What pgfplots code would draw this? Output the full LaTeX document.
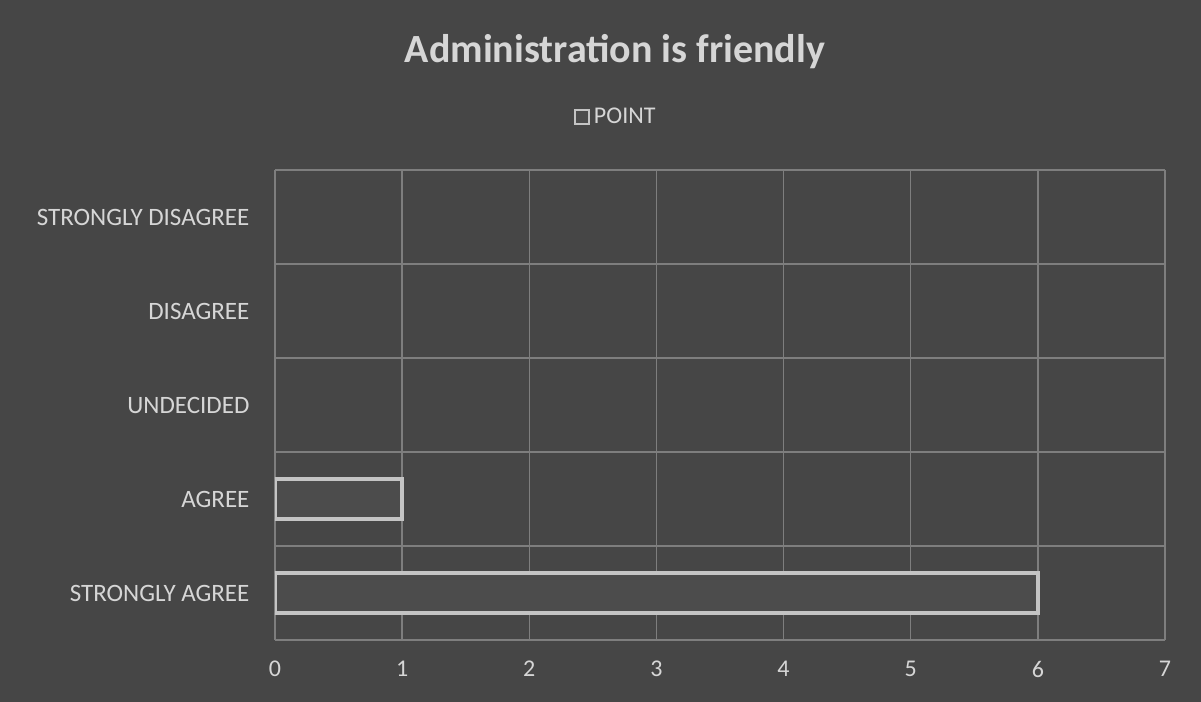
\documentclass[border=0pt]{standalone}
\usepackage{pgfplots}
\pgfplotsset{compat=1.18}
\usepackage{fontspec}
\setmainfont{Carlito}
\definecolor{bg}{HTML}{464646}
\definecolor{txt}{HTML}{D6D6D6}
\definecolor{grd}{HTML}{7E7E7E}
\definecolor{edge}{HTML}{C4C4C4}
\definecolor{barfill}{HTML}{4C4C4C}
\begin{document}
\begin{tikzpicture}
\fill[bg] (0pt,0pt) rectangle (600.5pt,351pt);
\node[font=\bfseries\fontsize{20}{24}\selectfont, text=txt] at (307.5pt,325pt) {Administration is friendly};
\begin{axis}[
  at={(137.5pt,31pt)}, anchor=south west,
  scale only axis, width=445pt, height=235pt,
  xbar, bar width=0.42,
  xmin=0, xmax=7, ymin=-0.5, ymax=4.5,
  xtick={0,...,7},
  ytick={0,1,2,3,4},
  yticklabels={STRONGLY AGREE,AGREE,UNDECIDED,DISAGREE,STRONGLY DISAGREE},
  minor ytick={-0.5,0.5,1.5,2.5,3.5,4.5},
  xmajorgrids, yminorgrids,
  major grid style={grd, line width=0.7pt},
  minor grid style={grd, line width=0.7pt},
  axis line style={draw=none},
  tick style={draw=none},
  /pgf/number format/assume math mode=true,
  ticklabel style={font=\fontsize{12.5}{14}\selectfont, text=txt},
  xticklabel style={yshift=-7pt, font=\fontsize{12}{14}\selectfont},
  yticklabel style={xshift=-5pt},
  legend style={at={(0.384,1.113)}, anchor=center, draw=none, fill=none,
    font=\fontsize{12}{14}\selectfont, text=txt, inner sep=0pt,
    legend cell align=left},
  legend image code/.code={\draw[edge, line width=1pt, fill=barfill] (0pt,-3.5pt) rectangle (7pt,3.5pt);},
]
\addplot[draw=edge, fill=barfill, line width=2.2pt] coordinates {(6,0) (1,1)};
\addlegendentry{POINT}
\end{axis}
\end{tikzpicture}
\end{document}
